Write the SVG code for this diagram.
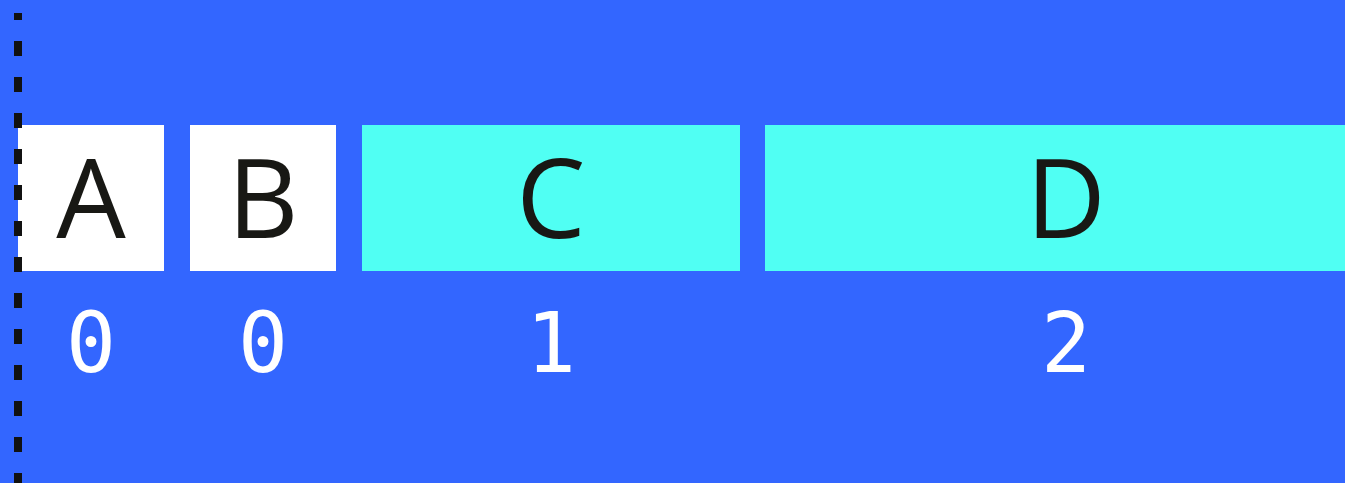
<svg xmlns="http://www.w3.org/2000/svg" width="1345" height="483" viewBox="0 0 1345 483">
<style>
.bg{fill:#3366ff}
.w{fill:#ffffff}
.c{fill:#50fff3}
.lbl{font-family:"Open Sans","Noto Sans",sans-serif;font-size:110px;fill:#181814;text-anchor:middle}
.num{font-family:"DejaVu Sans Mono",monospace;font-size:83px;fill:#ffffff;text-anchor:middle;font-variant-numeric:slashed-zero;font-feature-settings:"zero" 1}
</style>
<rect class="bg" x="0" y="0" width="1345" height="483"/>
<g id="nodeA"><rect class="w" x="18" y="125" width="146" height="146"/><text class="lbl" x="91" y="238">A</text><text class="num" x="91" y="372">0</text></g>
<g id="nodeB"><rect class="w" x="190" y="125" width="146" height="146"/><text class="lbl" x="263" y="238">B</text><text class="num" x="263" y="372">0</text></g>
<g id="nodeC"><rect class="c" x="362" y="125" width="378" height="146"/><text class="lbl" x="551" y="238">C</text><text class="num" x="551" y="372">1</text></g>
<g id="nodeD"><rect class="c" x="765" y="125" width="602" height="146"/><text class="lbl" x="1066" y="238">D</text><text class="num" x="1066" y="372">2</text></g>
<g id="connectors"><line x1="18" y1="13" x2="18" y2="483" stroke="#111111" stroke-width="8" stroke-dasharray="15 21" stroke-dashoffset="8"/></g>
</svg>
